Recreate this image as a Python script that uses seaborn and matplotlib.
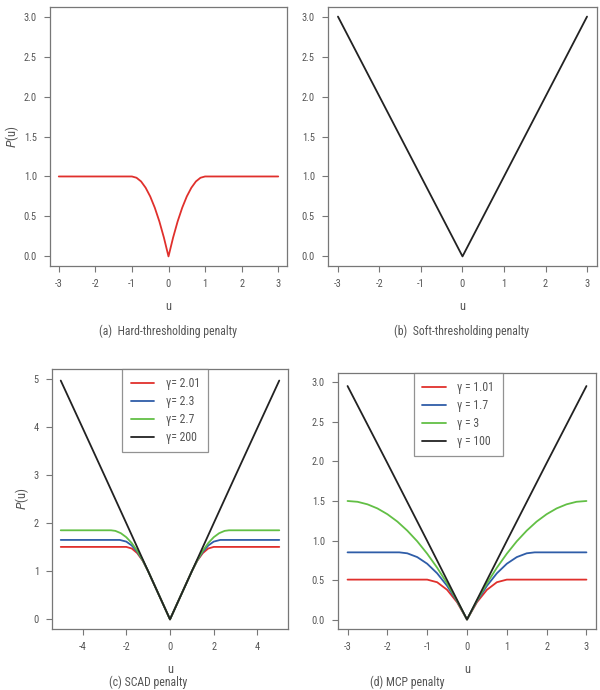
import matplotlib
matplotlib.use("Agg")
import matplotlib.pyplot as plt
from matplotlib import font_manager
import seaborn as sns
import pandas as pd

# ---------------- data ----------------
# (a) hard-thresholding penalty
hard_u = [-3, -2, -1, -0.875, -0.75, -0.625, -0.5, -0.375, -0.25, -0.125, 0,
          0.125, 0.25, 0.375, 0.5, 0.625, 0.75, 0.875, 1, 2, 3]
hard_p = [1.0, 1.0, 1.0, 0.984, 0.938, 0.859, 0.75, 0.609, 0.438, 0.234, 0.0,
          0.234, 0.438, 0.609, 0.75, 0.859, 0.938, 0.984, 1.0, 1.0, 1.0]

# (b) soft-thresholding penalty
soft_u = [-3, 0, 3]
soft_p = [3.0, 0.0, 3.0]

# (c) SCAD penalty
scad_labels = ["γ= 2.01", "γ= 2.3", "γ= 2.7", "γ= 200"]
scad_u_201 = [-5, -2.01, -2, -1.75, -1.5, -1.25, -1, 0, 1, 1.25, 1.5, 1.75, 2, 2.01, 5]
scad_p_201 = [1.505, 1.505, 1.505, 1.472, 1.376, 1.219, 1.0, 0.0, 1.0, 1.219, 1.376, 1.472, 1.505, 1.505, 1.505]
scad_u_23 = [-5, -2.3, -2, -1.75, -1.5, -1.25, -1, 0, 1, 1.25, 1.5, 1.75, 2, 2.3, 5]
scad_p_23 = [1.65, 1.65, 1.615, 1.534, 1.404, 1.226, 1.0, 0.0, 1.0, 1.226, 1.404, 1.534, 1.615, 1.65, 1.65]
scad_u_27 = [-5, -2.7, -2.5, -2.25, -2, -1.75, -1.5, -1.25, -1, 0,
             1, 1.25, 1.5, 1.75, 2, 2.25, 2.5, 2.7, 5]
scad_p_27 = [1.85, 1.85, 1.838, 1.79, 1.706, 1.585, 1.426, 1.232, 1.0, 0.0,
             1.0, 1.232, 1.426, 1.585, 1.706, 1.79, 1.838, 1.85, 1.85]
scad_u_200 = [-5, -4, -3, -2, -1, 0, 1, 2, 3, 4, 5]
scad_p_200 = [4.96, 3.977, 2.99, 1.997, 1.0, 0.0, 1.0, 1.997, 2.99, 3.977, 4.96]

# (d) MCP penalty
mcp_labels = ["γ = 1.01", "γ = 1.7", "γ = 3", "γ = 100"]
mcp_u_101 = [-3, -1.01, -1, -0.75, -0.5, -0.25, 0, 0.25, 0.5, 0.75, 1, 1.01, 3]
mcp_p_101 = [0.505, 0.505, 0.505, 0.472, 0.376, 0.219, 0.0, 0.219, 0.376, 0.472, 0.505, 0.505, 0.505]
mcp_u_17 = [-3, -1.7, -1.5, -1.25, -1, -0.75, -0.5, -0.25, 0,
            0.25, 0.5, 0.75, 1, 1.25, 1.5, 1.7, 3]
mcp_p_17 = [0.85, 0.85, 0.838, 0.79, 0.706, 0.585, 0.426, 0.232, 0.0,
            0.232, 0.426, 0.585, 0.706, 0.79, 0.838, 0.85, 0.85]
mcp_u_3 = [-3, -2.75, -2.5, -2.25, -2, -1.75, -1.5, -1.25, -1, -0.75, -0.5, -0.25, 0,
           0.25, 0.5, 0.75, 1, 1.25, 1.5, 1.75, 2, 2.25, 2.5, 2.75, 3]
mcp_p_3 = [1.5, 1.49, 1.458, 1.406, 1.333, 1.24, 1.125, 0.99, 0.833, 0.656, 0.458, 0.24, 0.0,
           0.24, 0.458, 0.656, 0.833, 0.99, 1.125, 1.24, 1.333, 1.406, 1.458, 1.49, 1.5]
mcp_u_100 = [-3, -2, -1, 0, 1, 2, 3]
mcp_p_100 = [2.955, 1.98, 0.995, 0.0, 0.995, 1.98, 2.955]

x_ticks_abd = [-3, -2, -1, 0, 1, 2, 3]
y_ticks_abd = [0.0, 0.5, 1.0, 1.5, 2.0, 2.5, 3.0]
x_ticks_c = [-4, -2, 0, 2, 4]
y_ticks_c = [0, 1, 2, 3, 4, 5]

captions = ["(a)  Hard-thresholding penalty", "(b)  Soft-thresholding penalty",
            "(c) SCAD penalty", "(d) MCP penalty"]

# ---------------- style ----------------
sns.set_style("white")
names = {f.name for f in font_manager.fontManager.ttflist}
fam = ["Roboto"]
for cand in ["Roboto Condensed", "Liberation Sans Narrow", "Open Sans Condensed"]:
    if cand in names:
        fam = [cand]
        break
plt.rcParams["font.family"] = fam + ["DejaVu Sans"]

TXT = "#555555"
EDGE = "#777777"
RED, BLUE, GREEN, BLACK = "#e0302c", "#2f5da8", "#62bf45", "#222222"
LW = 1.3

W, H = 600, 690
fig = plt.figure(figsize=(6, 6.9), dpi=100)


def add_ax(l, t, r, b):
    return fig.add_axes([l / W, 1 - b / H, (r - l) / W, (b - t) / H])


def style(ax, xt, yt, xlim, ylim, ylab):
    ax.set_xlim(*xlim)
    ax.set_ylim(*ylim)
    ax.set_xticks(xt)
    ax.set_yticks(yt)
    ax.set_xticklabels([str(v) for v in xt])
    if isinstance(yt[0], float):
        ax.set_yticklabels([f"{v:.1f}" for v in yt])
    else:
        ax.set_yticklabels([str(v) for v in yt])
    for s in ax.spines.values():
        s.set_color(EDGE)
        s.set_linewidth(0.9)
    ax.tick_params(axis="both", direction="out", length=4.5, width=0.8, color=EDGE,
                   labelcolor=TXT, labelsize=7.5, pad=5, bottom=True, left=True)
    ax.set_xlabel("u", color=TXT, fontsize=9, labelpad=8)
    if ylab:
        ax.set_ylabel("$P$(u)", color=TXT, fontsize=9, labelpad=2)
    else:
        ax.set_ylabel("")


def style_legend(leg):
    for t in leg.get_texts():
        t.set_color(TXT)
    leg.get_frame().set_linewidth(0.9)


LEG_KW = dict(loc="upper center", frameon=True, fancybox=False, edgecolor=EDGE,
              fontsize=8.5, handlelength=2.0, handletextpad=1.0,
              borderpad=0.7, labelspacing=0.42, borderaxespad=0)

# (a)
ax = add_ax(50, 7, 287, 266)
sns.lineplot(x=hard_u, y=hard_p, ax=ax, color=RED, lw=LW, sort=False, estimator=None)
style(ax, x_ticks_abd, y_ticks_abd, (-3.24, 3.24), (-0.12, 3.12), True)

# (b)
ax = add_ax(328, 7, 597, 266)
sns.lineplot(x=soft_u, y=soft_p, ax=ax, color=BLACK, lw=LW, sort=False, estimator=None)
style(ax, x_ticks_abd, y_ticks_abd, (-3.24, 3.24), (-0.12, 3.12), False)

# (c)
ax = add_ax(52, 369, 288, 629)
scad_df = pd.concat([
    pd.DataFrame({"u": scad_u_201, "P": scad_p_201, "g": scad_labels[0]}),
    pd.DataFrame({"u": scad_u_23, "P": scad_p_23, "g": scad_labels[1]}),
    pd.DataFrame({"u": scad_u_27, "P": scad_p_27, "g": scad_labels[2]}),
    pd.DataFrame({"u": scad_u_200, "P": scad_p_200, "g": scad_labels[3]}),
])
sns.lineplot(data=scad_df, x="u", y="P", hue="g", hue_order=scad_labels,
             palette=[RED, BLUE, GREEN, BLACK], ax=ax, lw=LW, sort=False, estimator=None)
style(ax, x_ticks_c, y_ticks_c, (-5.4, 5.4), (-0.2, 5.2), True)
leg = ax.legend(bbox_to_anchor=(0.48, 1.0), **LEG_KW)
style_legend(leg)

# (d)
ax = add_ax(338, 373, 596, 629)
mcp_df = pd.concat([
    pd.DataFrame({"u": mcp_u_101, "P": mcp_p_101, "g": mcp_labels[0]}),
    pd.DataFrame({"u": mcp_u_17, "P": mcp_p_17, "g": mcp_labels[1]}),
    pd.DataFrame({"u": mcp_u_3, "P": mcp_p_3, "g": mcp_labels[2]}),
    pd.DataFrame({"u": mcp_u_100, "P": mcp_p_100, "g": mcp_labels[3]}),
])
sns.lineplot(data=mcp_df, x="u", y="P", hue="g", hue_order=mcp_labels,
             palette=[RED, BLUE, GREEN, BLACK], ax=ax, lw=LW, sort=False, estimator=None)
style(ax, x_ticks_abd, y_ticks_abd, (-3.24, 3.24), (-0.12, 3.12), False)
leg = ax.legend(bbox_to_anchor=(0.466, 1.0), **LEG_KW)
style_legend(leg)

# captions
fig.text(168 / W, 1 - 331 / H, captions[0], ha="center", va="center", color=TXT, fontsize=8.5)
fig.text(462 / W, 1 - 331 / H, captions[1], ha="center", va="center", color=TXT, fontsize=8.5)
fig.text(148 / W, 1 - 689 / H, captions[2], ha="center", va="bottom", color=TXT, fontsize=8.5)
fig.text(407 / W, 1 - 689 / H, captions[3], ha="center", va="bottom", color=TXT, fontsize=8.5)

fig.savefig("out.png", dpi=100, facecolor="white")
